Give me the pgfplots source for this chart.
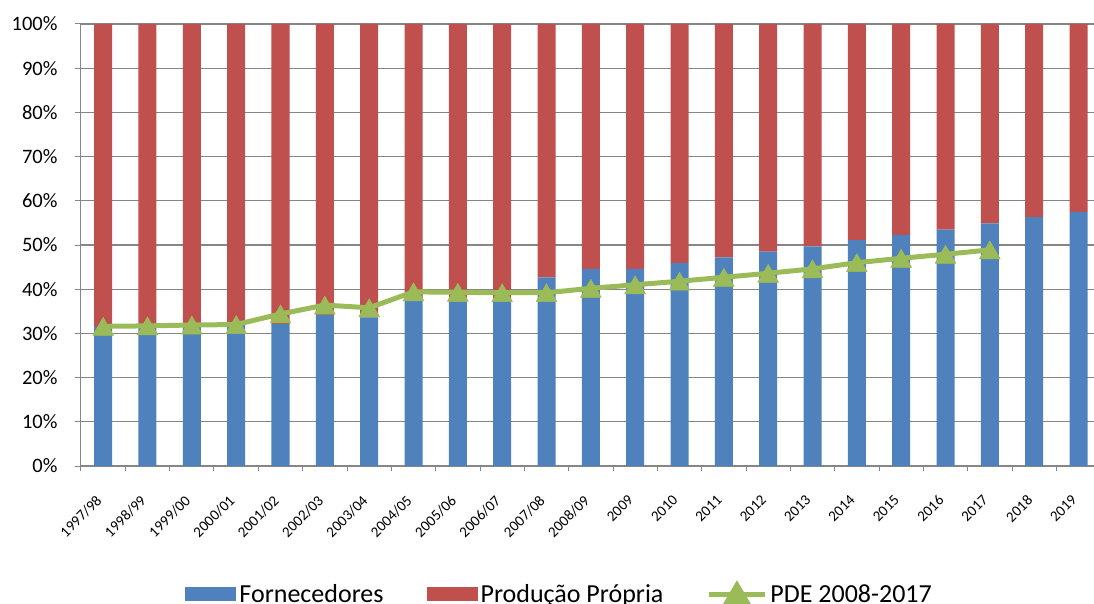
\documentclass[border=0pt]{standalone}
\usepackage{pgfplots}
\pgfplotsset{compat=1.18}
\usepackage{pgfplotstable}
\usepackage{fontspec}
\setmainfont{Carlito}
\definecolor{cblue}{HTML}{4F81BD}
\definecolor{cred}{HTML}{C0504D}
\definecolor{cgreen}{HTML}{9BBB59}
\definecolor{cgrid}{HTML}{868686}

\pgfplotstableread{
x blue red
0 31.5 68.5
1 31.6 68.4
2 31.8 68.2
3 31.9 68.1
4 32.1 67.9
5 34.2 65.8
6 33.6 66.4
7 37.3 62.7
8 37.2 62.8
9 37.5 62.5
10 42.7 57.3
11 44.6 55.4
12 44.6 55.4
13 45.9 54.1
14 47.2 52.8
15 48.5 51.5
16 49.7 50.3
17 51.1 48.9
18 52.3 47.7
19 53.5 46.5
20 54.9 45.1
21 56.3 43.7
22 57.5 42.5
}\bars

\pgfplotstableread{
x pde
0 31.6
1 31.7
2 31.9
3 32.0
4 34.4
5 36.4
6 35.8
7 39.4
8 39.3
9 39.2
10 39.2
11 40.2
12 41.0
13 41.8
14 42.7
15 43.6
16 44.6
17 46.0
18 47.0
19 47.9
20 48.9
}\pde

\begin{document}
\begin{tikzpicture}
\path[use as bounding box] (-81pt,-137pt) rectangle (1013pt,466pt);
\begin{axis}[
  at={(0,0)}, anchor=south west,
  scale only axis, width=1013pt, height=442pt,
  xmin=-0.5, xmax=22.35, ymin=0, ymax=100,
  ybar stacked, bar width=18pt,
  axis lines*=left,
  axis line style={draw=cgrid, line width=1pt},
  ymajorgrids, grid style={draw=cgrid, line width=1.2pt},
  ytick={0,10,...,100},
  yticklabels={0\%,10\%,20\%,30\%,40\%,50\%,60\%,70\%,80\%,90\%,100\%},
  xtick={0,...,22},
  xticklabels={1997/98,1998/99,1999/00,2000/01,2001/02,2002/03,2003/04,2004/05,2005/06,2006/07,2007/08,2008/09,2009,2010,2011,2012,2013,2014,2015,2016,2017,2018,2019},
  major x tick style={draw=none},
  minor xtick={-0.5,0.5,...,22.5},
  minor x tick style={draw=cgrid, line width=1pt},
  major y tick style={draw=cgrid, line width=1pt},
  tick align=outside, major tick length=6pt, minor tick length=5pt,
  yticklabel style={font=\fontsize{20.5}{24}\selectfont, xshift=-14pt},
  xticklabel style={font=\fontsize{15}{18}\selectfont, inner sep=0pt,
    xshift=-8pt, yshift=-22pt, rotate=45, anchor=north east},
  legend columns=3,
  legend style={at={(0.473,-0.29)}, anchor=center, draw=none, fill=none,
    font=\fontsize{26}{30}\selectfont,
    /tikz/every even column/.append style={column sep=40pt},
    nodes={inner sep=3pt}},
]
\addplot[fill=cblue, draw=none,
  legend image code/.code={\fill[cblue] (0pt,-6.5pt) rectangle (51pt,7pt);}]
  table[x=x,y=blue]{\bars};
\addlegendentry{Fornecedores}
\addplot[fill=cred, draw=none,
  legend image code/.code={\fill[cred] (0pt,-6.5pt) rectangle (51pt,7pt);}]
  table[x=x,y=red]{\bars};
\addlegendentry{Produção Própria}
\addlegendimage{cgreen, line width=5pt,
  legend image code/.code={\draw[cgreen, line width=5pt] (0pt,0pt) -- (56pt,0pt);
    \fill[cgreen] (28pt,9pt) -- (18pt,-8pt) -- (38pt,-8pt) -- cycle;}}
\addlegendentry{PDE 2008-2017}
\end{axis}
\begin{axis}[
  at={(0,0)}, anchor=south west,
  scale only axis, width=1013pt, height=442pt,
  xmin=-0.5, xmax=22.35, ymin=0, ymax=100,
  hide axis, clip=false,
]
\addplot[cgreen, line width=5pt, mark=triangle*, mark size=12pt,
  mark options={line width=0.5pt, yshift=-3pt}]
  table[x=x,y=pde]{\pde};
\end{axis}
\end{tikzpicture}
\end{document}
